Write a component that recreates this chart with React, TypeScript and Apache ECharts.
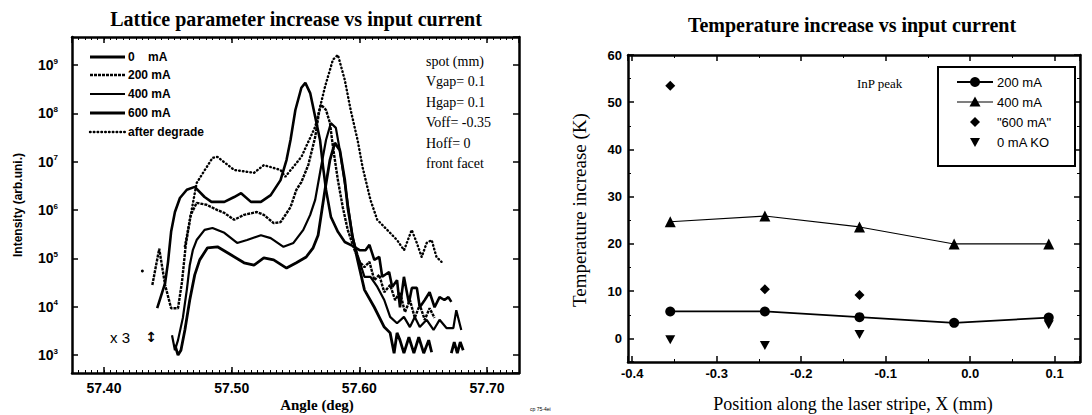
import React, { useEffect, useRef } from "react";
import * as echarts from "echarts";

// ---------- Left panel: X-ray rocking curves (log10 of intensity) ----------
const angle0mA = [57.4417, 57.4479, 57.4502, 57.4526, 57.4556, 57.4595, 57.4649, 57.4711, 57.4788, 57.4842, 57.4943, 57.502, 57.5074, 57.5151, 57.5229, 57.5306, 57.5383, 57.543, 57.5461, 57.5499, 57.5546, 57.5577, 57.5615, 57.5654, 57.5692, 57.5716, 57.5739, 57.5777, 57.5832, 57.5886, 57.5947, 57.6002, 57.6048, 57.6079, 57.6117, 57.6156, 57.6179, 57.6233, 57.6257, 57.6295, 57.6318, 57.6349, 57.6388, 57.6411, 57.645, 57.6473, 57.6512, 57.655, 57.6589, 57.6628, 57.6666, 57.6697, 57.672];
const logI0mA = [3.97, 4.49, 4.93, 5.55, 5.96, 6.25, 6.42, 6.48, 6.27, 6.17, 6.17, 6.27, 6.35, 6.17, 6.17, 6.31, 6.62, 7.04, 7.45, 8.07, 8.53, 8.63, 8.42, 7.93, 7.45, 6.89, 6.42, 5.86, 5.55, 5.34, 5.26, 5.17, 5.17, 5.28, 4.97, 5.03, 4.62, 4.72, 4.41, 4.55, 3.99, 4.62, 4.08, 4.39, 4.39, 3.99, 4.14, 4.3, 3.99, 4.2, 4.14, 4.2, 4.1];

const angle200mA = [57.4379, 57.4433, 57.4479, 57.4526, 57.458, 57.4611, 57.4641, 57.468, 57.4726, 57.4804, 57.4889, 57.4943, 57.502, 57.5097, 57.5198, 57.5252, 57.5329, 57.5383, 57.5461, 57.5507, 57.5546, 57.56, 57.5654, 57.5685, 57.57, 57.5739, 57.577, 57.5793, 57.5832, 57.587, 57.5909, 57.5963, 57.6002, 57.604, 57.6079, 57.6117, 57.6156, 57.6195, 57.6241, 57.628, 57.6318, 57.6357, 57.6396, 57.6434, 57.6473, 57.6512, 57.655, 57.6589];
const logI200mA = [4.45, 5.2, 4.45, 3.97, 3.97, 4.51, 5.28, 5.9, 6.15, 6.11, 6.0, 5.94, 5.8, 5.9, 5.96, 5.9, 5.73, 5.75, 6.06, 6.42, 6.58, 6.93, 7.51, 8.03, 8.18, 8.07, 7.8, 7.31, 6.62, 6.06, 5.59, 5.17, 4.93, 4.82, 4.93, 4.55, 4.66, 4.3, 4.45, 4.14, 4.3, 3.89, 4.14, 3.77, 4.04, 3.73, 3.97, 3.77];

const angle400mA = [57.4533, 57.4556, 57.458, 57.4618, 57.4649, 57.4672, 57.4696, 57.4726, 57.4788, 57.485, 57.4943, 57.5043, 57.5121, 57.5229, 57.5306, 57.5406, 57.5484, 57.5561, 57.5615, 57.5654, 57.57, 57.5739, 57.5777, 57.5816, 57.5847, 57.5886, 57.5924, 57.5947, 57.5986, 57.604, 57.6087, 57.6141, 57.6195, 57.6241, 57.6295, 57.6349, 57.6396, 57.6434, 57.6473, 57.6527, 57.6581, 57.6628, 57.6682, 57.6736, 57.6759, 57.6798];
const logI400mA = [3.41, 3.1, 3.31, 3.77, 4.35, 4.86, 5.17, 5.38, 5.59, 5.63, 5.53, 5.32, 5.38, 5.48, 5.42, 5.24, 5.32, 5.59, 5.9, 6.21, 6.89, 7.45, 7.8, 7.7, 7.24, 6.56, 5.86, 5.44, 5.07, 4.62, 4.62, 4.41, 4.14, 3.79, 3.66, 3.79, 3.58, 3.79, 3.58, 3.73, 3.52, 3.73, 3.56, 3.56, 3.93, 3.52];

const angle600mA = [57.4556, 57.458, 57.4603, 57.4634, 57.4672, 57.4711, 57.475, 57.4811, 57.4889, 57.4997, 57.5097, 57.5175, 57.5252, 57.5329, 57.543, 57.5507, 57.5584, 57.5638, 57.5677, 57.5731, 57.577, 57.5808, 57.5847, 57.5886, 57.5909, 57.5947, 57.5986, 57.604, 57.6117, 57.6195, 57.6241, 57.6272, 57.6295, 57.6318, 57.6349, 57.6388, 57.6427, 57.6465, 57.6504, 57.6543, 57.6566, 57.664, 57.672, 57.6743, 57.6767, 57.679, 57.6813];
const logI600mA = [3.21, 3.0, 3.1, 3.52, 4.14, 4.66, 4.97, 5.22, 5.24, 5.07, 4.91, 4.86, 5.01, 4.97, 4.8, 4.91, 5.03, 5.22, 5.48, 6.42, 7.04, 7.39, 7.24, 6.62, 6.06, 5.44, 4.97, 4.35, 3.99, 3.58, 3.46, 3.04, 3.46, 3.31, 3.04, 3.37, 3.04, 3.37, 3.04, 3.31, 3.06, null, 3.04, 3.27, 3.04, 3.27, 3.1];

const angleDegrade = [57.4634, 57.4726, 57.485, 57.4889, 57.502, 57.5175, 57.5252, 57.5383, 57.542, 57.5546, 57.5654, 57.5731, 57.5793, 57.5832, 57.5886, 57.5932, 57.5986, 57.6025, 57.6087, 57.614, 57.6218, 57.6295, 57.635, 57.641, 57.645, 57.6488, 57.6527, 57.6566, 57.6604, 57.6643];
const logIDegrade = [5.25, 6.56, 7.08, 7.1, 6.83, 6.77, 6.93, 6.83, 6.69, 7.1, 7.72, 8.55, 9.11, 9.21, 8.69, 8.07, 7.45, 6.89, 6.21, 5.8, 5.59, 5.38, 5.17, 5.59, 5.32, 5.03, 5.32, 5.38, 5.03, 4.93];

const angleStray = [57.4301];
const logIStray = [4.74];

const leftLegendNames = ["0    mA", "200 mA", "400 mA", "600 mA", "after degrade"];
const leftNotes = ["spot (mm)", "Vgap= 0.1", "Hgap= 0.1", "Voff= -0.35", "Hoff= 0", "front facet"];

// ---------- Right panel: temperature increase ----------
const position = [-0.355, -0.243, -0.131, -0.019, 0.093];
const temp200mA = [5.7, 5.7, 4.5, 3.3, 4.4];
const temp400mA = [24.7, 25.9, 23.6, 20.0, 20.0];
const position600mA = [-0.355, -0.243, -0.131];
const temp600mA = [53.5, 10.4, 9.2];
const position0mAKO = [-0.355, -0.243, -0.131, 0.093];
const temp0mAKO = [-0.3, -1.5, 0.8, 2.9];

const rightLegendLabels = ["200 mA", "400 mA", "\"600 mA\"", "0 mA KO"];

const SANS = "'Liberation Sans', Arial, Helvetica, sans-serif";
const SERIF = "'Liberation Serif', 'Times New Roman', Times, serif";

const pairs = (xs: number[], ys: (number | null)[], f = (v: number) => v) =>
  xs.map((x, i) => [x, ys[i] === null || ys[i] === undefined ? "-" : f(ys[i] as number)]);
const pow10 = (v: number) => Math.pow(10, v);

const BLACK = "#000";

function baseAxis(type: string, grid: number, min: number, max: number, pos: string, onZero?: boolean) {
  const axisLine: any = { show: true, lineStyle: { color: BLACK, width: 2.5 } };
  if (onZero === false) axisLine.onZero = false;
  return {
    type,
    gridIndex: grid,
    min,
    max,
    position: pos,
    axisLine,
    splitLine: { show: false },
  };
}

function txt(x: number, y: number, text: string, size: number, family: string, weight = "normal", align = "left", rotation = 0) {
  return {
    type: "text",
    x,
    y,
    rotation,
    z: 10,
    style: {
      text,
      fontSize: size,
      fontFamily: family,
      fontWeight: weight,
      fill: BLACK,
      textAlign: align,
      textVerticalAlign: "middle",
      verticalAlign: "middle",
    },
  };
}

export default function App() {
  const ref = useRef<HTMLDivElement>(null);

  useEffect(() => {
    if (!ref.current) return;
    const chart = echarts.init(ref.current, null, { renderer: "svg" });
    const lMin = 57.375, lMax = 57.725;
    const rMin = -0.405, rMax = 0.13;

    const leftMajorX = (pos: string, labels: boolean) => ({
      ...baseAxis("value", 0, lMin, lMax, pos),
      axisTick: { show: true, inside: true, length: 6, lineStyle: { color: BLACK, width: 1.5 } },
      axisLabel: labels
        ? { show: true, showMinLabel: false, showMaxLabel: false, formatter: (v: number) => v.toFixed(2), margin: 8, color: BLACK, fontFamily: SANS, fontWeight: "bold", fontSize: 14 }
        : { show: false },
    });
    const leftMinorX = (pos: string) => ({
      ...baseAxis("value", 0, lMin, lMax, pos),
      interval: 0.005,
      axisLine: { show: false },
      axisTick: { show: true, inside: true, length: 3, lineStyle: { color: BLACK, width: 1 } },
      axisLabel: { show: false },
    });
    const leftY = (pos: string, labels: boolean) => ({
      ...baseAxis("log", 0, pow10(2.63), pow10(9.58), pos),
      logBase: 10,
      axisTick: { show: true, inside: true, length: 6, lineStyle: { color: BLACK, width: 1.5 } },
      axisLabel: labels
        ? {
            show: true,
            showMinLabel: false,
            showMaxLabel: false,
            margin: 14,
            formatter: (v: number) => `{b|10}{s|${Math.round(Math.log10(v))}}`,
            rich: {
              b: { fontSize: 14, fontWeight: "bold", fontFamily: SANS, color: BLACK },
              s: { fontSize: 8, fontWeight: "bold", fontFamily: SANS, color: BLACK, verticalAlign: "top", padding: [0, 0, 8, 0] },
            },
          }
        : { show: false },
    });
    const rightX = (pos: string, labels: boolean) => ({
      ...baseAxis("value", 1, rMin, rMax, pos, false),
      axisTick: { show: true, inside: true, length: 6, lineStyle: { color: BLACK, width: 1.5 } },
      minorTick: { show: true, splitNumber: 2, length: 3, lineStyle: { color: BLACK, width: 1 } },
      axisLabel: labels
        ? { show: true, showMinLabel: false, showMaxLabel: false, formatter: (v: number) => v.toFixed(1), margin: 5, color: BLACK, fontFamily: SANS, fontWeight: "bold", fontSize: 13 }
        : { show: false },
    });
    const rightY = (pos: string, labels: boolean) => ({
      ...baseAxis("value", 1, -5, 60, pos, false),
      axisTick: { show: true, inside: true, length: 6, lineStyle: { color: BLACK, width: 1.5 } },
      minorTick: { show: true, splitNumber: 2, length: 3, lineStyle: { color: BLACK, width: 1 } },
      axisLabel: labels
        ? { show: true, showMinLabel: false, margin: 6, color: BLACK, fontFamily: SANS, fontWeight: "bold", fontSize: 13 }
        : { show: false },
    });

    // legend graphics (left panel)
    const leftLegendStyles = [
      { lineWidth: 3 },
      { lineWidth: 2.5, lineDash: [3, 1] },
      { lineWidth: 2.2 },
      { lineWidth: 2.8 },
      { lineWidth: 2.4, lineDash: [0.6, 3.2], lineCap: "round" },
    ];
    const leftLegendRows = [57, 75, 94, 113, 132];
    const leftLegend: any[] = [];
    leftLegendNames.forEach((n, i) => {
      leftLegend.push({
        type: "line",
        z: 10,
        shape: { x1: 90, y1: leftLegendRows[i], x2: 125, y2: leftLegendRows[i] },
        style: { stroke: BLACK, ...leftLegendStyles[i] },
      });
      leftLegend.push(txt(128, leftLegendRows[i], n, 12, SANS, "bold", "left"));
    });

    // legend graphics (right panel)
    const rRows = [82, 102, 122, 142];
    const cx = 975;
    const rightLegend: any[] = [
      { type: "rect", z: 9, shape: { x: 938, y: 67, width: 137, height: 99 }, style: { fill: "#fff", stroke: BLACK, lineWidth: 2 } },
      { type: "line", z: 10, shape: { x1: 957, y1: rRows[0], x2: 993, y2: rRows[0] }, style: { stroke: BLACK, lineWidth: 1.8 } },
      { type: "circle", z: 10, shape: { cx, cy: rRows[0], r: 5 }, style: { fill: BLACK } },
      { type: "line", z: 10, shape: { x1: 957, y1: rRows[1], x2: 993, y2: rRows[1] }, style: { stroke: BLACK, lineWidth: 1.1 } },
      { type: "polygon", z: 10, shape: { points: [[cx, rRows[1] - 5.5], [cx + 5.5, rRows[1] + 4.5], [cx - 5.5, rRows[1] + 4.5]] }, style: { fill: BLACK } },
      { type: "polygon", z: 10, shape: { points: [[cx, rRows[2] - 5], [cx + 5, rRows[2]], [cx, rRows[2] + 5], [cx - 5, rRows[2]]] }, style: { fill: BLACK } },
      { type: "polygon", z: 10, shape: { points: [[cx - 5, rRows[3] - 4], [cx + 5, rRows[3] - 4], [cx, rRows[3] + 5]] }, style: { fill: BLACK } },
      ...rightLegendLabels.map((t, i) => txt(997, rRows[i], t, 13, SANS, "normal", "left")),
    ];

    const option: any = {
      animation: false,
      backgroundColor: "#fff",
      grid: [
        { left: 72, top: 37, width: 447, height: 336 },
        { left: 628, top: 55, width: 452, height: 307 },
      ],
      xAxis: [
        leftMajorX("bottom", true),
        leftMinorX("bottom"),
        leftMajorX("top", false),
        leftMinorX("top"),
        rightX("bottom", true),
        rightX("top", false),
      ],
      yAxis: [leftY("left", true), leftY("right", false), rightY("left", true), rightY("right", false)],
      series: [
        {
          name: leftLegendNames[0], type: "line", xAxisIndex: 0, yAxisIndex: 0, showSymbol: false,
          data: pairs(angle0mA, logI0mA, pow10), lineStyle: { color: BLACK, width: 2.6 }, itemStyle: { color: BLACK },
        },
        {
          name: leftLegendNames[1], type: "line", xAxisIndex: 0, yAxisIndex: 0, showSymbol: false,
          data: pairs(angle200mA, logI200mA, pow10), lineStyle: { color: BLACK, width: 2.4, type: [3, 1] }, itemStyle: { color: BLACK },
        },
        {
          name: leftLegendNames[2], type: "line", xAxisIndex: 0, yAxisIndex: 0, showSymbol: false,
          data: pairs(angle400mA, logI400mA, pow10), lineStyle: { color: BLACK, width: 2.2 }, itemStyle: { color: BLACK },
        },
        {
          name: leftLegendNames[3], type: "line", xAxisIndex: 0, yAxisIndex: 0, showSymbol: false, connectNulls: false,
          data: pairs(angle600mA, logI600mA, pow10), lineStyle: { color: BLACK, width: 2.8 }, itemStyle: { color: BLACK },
        },
        {
          name: leftLegendNames[4], type: "line", xAxisIndex: 0, yAxisIndex: 0, showSymbol: false,
          data: pairs(angleDegrade, logIDegrade, pow10),
          lineStyle: { color: BLACK, width: 2.4, type: [0.6, 3.2], cap: "round" }, itemStyle: { color: BLACK },
        },
        {
          name: "stray", type: "scatter", xAxisIndex: 0, yAxisIndex: 0, symbol: "circle", symbolSize: 3,
          data: pairs(angleStray, logIStray, pow10), itemStyle: { color: BLACK, opacity: 1 },
        },
        {
          name: "200 mA (T)", type: "line", xAxisIndex: 4, yAxisIndex: 2, symbol: "circle", symbolSize: 10, showSymbol: true,
          data: pairs(position, temp200mA), lineStyle: { color: BLACK, width: 1.8 }, itemStyle: { color: BLACK, opacity: 1 },
        },
        {
          name: "400 mA (T)", type: "line", xAxisIndex: 4, yAxisIndex: 2, symbol: "triangle", symbolSize: 11, showSymbol: true,
          data: pairs(position, temp400mA), lineStyle: { color: BLACK, width: 1.1 }, itemStyle: { color: BLACK, opacity: 1 },
        },
        {
          name: "600 mA (T)", type: "scatter", xAxisIndex: 4, yAxisIndex: 2, symbol: "diamond", symbolSize: 10,
          data: pairs(position600mA, temp600mA), itemStyle: { color: BLACK, opacity: 1 },
        },
        {
          name: "0 mA KO (T)", type: "scatter", xAxisIndex: 4, yAxisIndex: 2, symbol: "triangle", symbolRotate: 180, symbolSize: [10, 9],
          data: pairs(position0mAKO, temp0mAKO), itemStyle: { color: BLACK, opacity: 1 },
        },
      ],
      graphic: [
        txt(296, 19, "Lattice parameter increase vs input current", 20, SERIF, "bold", "center"),
        txt(852, 25, "Temperature increase vs input current", 20, SERIF, "bold", "center"),
        txt(317, 405, "Angle (deg)", 15, SERIF, "bold", "center"),
        txt(853, 404, "Position along the laser stripe, X (mm)", 18, SERIF, "normal", "center"),
        txt(18, 205, "Intensity (arb.uni.)", 12, SANS, "bold", "center", Math.PI / 2),
        txt(579, 210, "Temperature increase (K)", 19, SERIF, "normal", "center", Math.PI / 2),
        txt(857, 83, "InP peak", 13, SERIF, "normal", "left"),
        ...leftNotes.map((t, i) => txt(426, 61 + i * 20.5, t, 14, SERIF, "normal", "left")),
        txt(110, 337, "x 3", 15, SANS, "normal", "left"),
        txt(151, 337, "\u2195", 14, "'DejaVu Sans', sans-serif", "bold", "center"),
        txt(530, 409, "cp 75-4ei", 5, SANS, "normal", "left"),
        ...leftLegend,
        ...rightLegend,
      ],
    };

    chart.setOption(option);
    return () => chart.dispose();
  }, []);

  return (
    <div
      ref={ref}
      style={{ position: "absolute", left: 0, top: 0, width: 1092, height: 415, background: "#fff" }}
    />
  );
}
